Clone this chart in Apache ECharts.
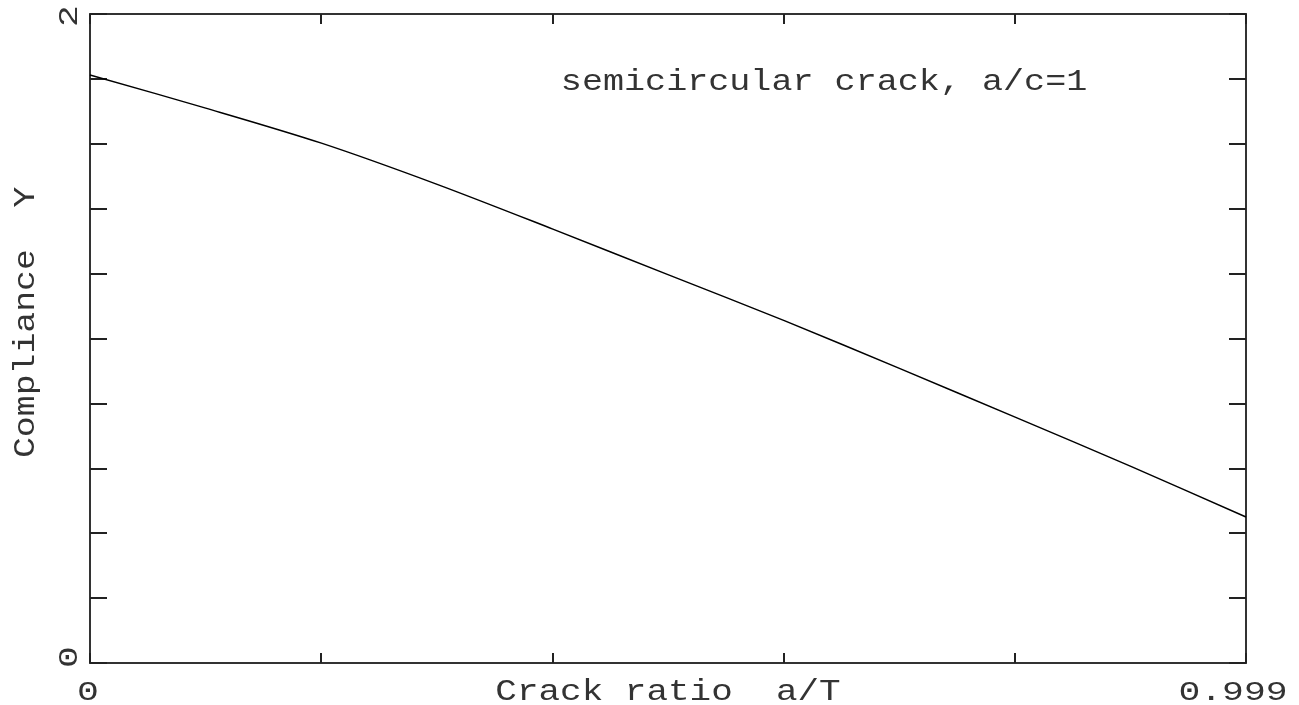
<!DOCTYPE html>
<html>
<head>
<meta charset="utf-8">
<script src="https://cdn.jsdelivr.net/npm/echarts@6/dist/echarts.min.js"></script>
<style>html,body{margin:0;padding:0;background:#fff}#c{width:1299px;height:705px}</style>
</head>
<body>
<div id="c"></div>
<script>
const xValues = [0, 0.1, 0.2, 0.3, 0.4, 0.5, 0.6, 0.7, 0.8, 0.9, 0.999];
const yValues = [1.812, 1.71, 1.602, 1.475, 1.337, 1.196, 1.055, 0.907, 0.757, 0.605, 0.450];
const xTickLabels = [[0, '0'], [0.999, '0.999']];
const yTickLabels = [[0, '0'], [2, '2']];
const xTitle = 'Crack ratio  a/T';
const yTitle = 'Compliance  Y';
const noteText = 'semicircular crack, a/c=1';

const FONT = '"Liberation Mono", "DejaVu Sans Mono", monospace';
const chart = echarts.init(document.getElementById('c'), null, {renderer: 'canvas'});
const axisLine = {show: true, onZero: false, lineStyle: {color: '#333', width: 2}};
function tick(len) { return {show: true, inside: true, length: len, lineStyle: {color: '#222', width: 2}}; }
const opt = {
  animation: false,
  backgroundColor: '#fff',
  grid: {left: 90, right: 53, top: 14, bottom: 42, containLabel: false},
  xAxis: [
    {type: 'value', position: 'bottom', min: 0, max: 0.999, interval: 0.1998,
     axisLine: axisLine, axisTick: tick(10), axisLabel: {show: false}, splitLine: {show: false}},
    {type: 'value', position: 'top', min: 0, max: 0.999, interval: 0.1998,
     axisLine: axisLine, axisTick: tick(10), axisLabel: {show: false}, splitLine: {show: false}}
  ],
  yAxis: [
    {type: 'value', position: 'left', min: 0, max: 2, interval: 0.2,
     axisLine: axisLine, axisTick: tick(17), axisLabel: {show: false}, splitLine: {show: false}},
    {type: 'value', position: 'right', min: 0, max: 2, interval: 0.2,
     axisLine: axisLine, axisTick: tick(17), axisLabel: {show: false}, splitLine: {show: false}}
  ],
  series: [{
    type: 'line', xAxisIndex: 0, yAxisIndex: 0,
    data: xValues.map((x, i) => [x, yValues[i]]),
    smooth: 0.3, showSymbol: false, symbol: 'none',
    lineStyle: {color: '#000', width: 1.5}
  }]
};
chart.setOption(opt);

function txt(text, x, y, sx, rot, size) {
  return {
    type: 'text', x: x, y: y, rotation: rot || 0, scaleX: sx, scaleY: 1,
    style: {text: text, fill: '#333', font: 'normal ' + (size || 28) + 'px ' + FONT,
            textAlign: 'center', textVerticalAlign: 'middle'}
  };
}
const g = [];
xTickLabels.forEach(([v, t]) => {
  const p = chart.convertToPixel({gridIndex: 0}, [v, 0]);
  const off = t.length > 1 ? -13 : -2;
  g.push(txt(t, p[0] + off, p[1] + 30, 1.3, 0, 28));
});
yTickLabels.forEach(([v, t]) => {
  const p = chart.convertToPixel({gridIndex: 0}, [0, v]);
  const off = v === 0 ? -6 : 2;
  g.push(txt(t, p[0] - 20, p[1] + off, 1.3, Math.PI / 2, 28));
});
const pb = chart.convertToPixel({gridIndex: 0}, [0.999 * 0.5, 0]);
g.push(txt(xTitle, pb[0], pb[1] + 29, 1.24, 0, 29));
const pl = chart.convertToPixel({gridIndex: 0}, [0, 1.05]);
g.push(txt(yTitle, 26, pl[1], 1.2, Math.PI / 2, 29));
const pn = chart.convertToPixel({gridIndex: 0}, [0.999 * 0.635, 1.79]);
g.push(txt(noteText, pn[0], pn[1], 1.21, 0, 29));
chart.setOption({graphic: g});
</script>
</body>
</html>
